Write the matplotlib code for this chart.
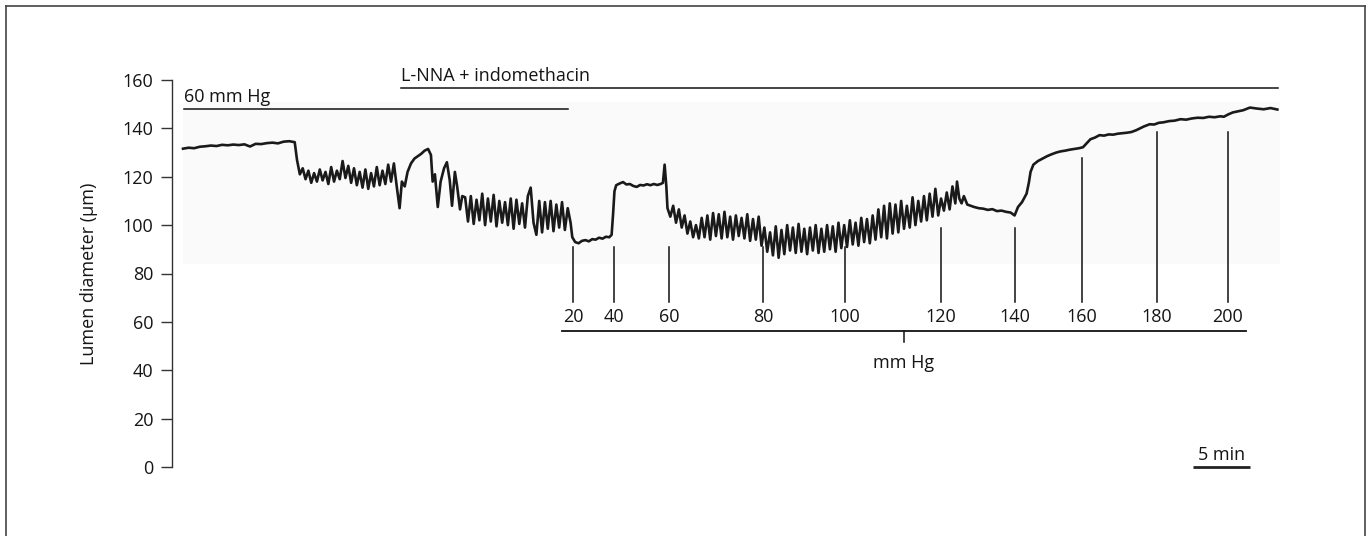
import numpy as np
import matplotlib
matplotlib.use("Agg")
import matplotlib.pyplot as plt
from matplotlib.lines import Line2D

plt.rcParams['font.family'] = ['Open Sans', 'DejaVu Sans']

# ---------------- data (time in min, lumen diameter in µm) ----------------
# baseline at 60 mm Hg, sampled evenly between 0 and 9.8 min
base_span = (0.0, 9.8)
base_v = [131.6, 132.0, 131.8, 132.4, 132.6, 132.9, 132.7, 133.2, 133.0, 133.3, 133.1,
          133.4, 132.5, 133.6, 133.5, 133.9, 134.1, 133.8, 134.5, 134.7, 134.3]

# after L-NNA + indomethacin: vasomotion, sampled evenly 10.0 - 18.75 min
osc1_span = (10.0, 18.75)
osc1_v = [127.0, 121.0, 123.5, 119.0, 122.5, 117.5, 121.5, 118.0, 123.0, 118.5, 122.0, 117.0,
          124.0, 118.0, 122.5, 119.0, 126.5, 119.5, 124.5, 117.5, 123.5, 116.5, 122.0, 115.5,
          123.0, 115.0, 121.5, 116.0, 124.0, 116.5, 122.5, 117.0, 125.0, 118.0, 125.5, 116.0]

# spike and transient hump
hump_t = [19.0, 19.2, 19.45, 19.7, 20.0, 20.3, 20.6, 20.9, 21.2, 21.5, 21.75, 21.9, 22.1,
          22.35, 22.6, 22.9, 23.15, 23.4, 23.6, 23.85, 24.05, 24.3, 24.5]
hump_v = [107.0, 118.0, 116.0, 122.0, 125.5, 127.5, 128.5, 129.5, 130.8, 131.5, 129.0, 118.0,
          121.0, 107.5, 118.0, 123.5, 126.0, 118.5, 108.0, 122.0, 116.0, 106.5, 112.0]

# dense vasomotion, sampled evenly 24.75 - 33.75 min
osc2_span = (24.75, 33.75)
osc2_v = [111.5, 101.5, 112.0, 100.5, 110.5, 102.0, 113.0, 100.0, 111.0, 101.5, 112.5, 99.5,
          110.0, 101.0, 109.5, 100.0, 111.0, 98.5, 110.5, 100.5, 109.0, 99.0, 112.0, 115.5,
          101.0, 96.0, 110.0, 97.0, 109.5, 98.5, 110.0, 97.5, 108.5, 99.0, 109.5, 98.0, 107.0]

# pressure steps 20 and 40 mm Hg
step_t = [34.0, 34.15, 34.4, 34.7, 35.0, 35.3, 35.6, 35.9, 36.2, 36.5, 36.8, 37.1, 37.4, 37.6,
          37.72, 37.85, 38.0, 38.3, 38.6, 38.9, 39.2, 39.5, 39.8, 40.1, 40.4, 40.7, 41.0, 41.3,
          41.6, 41.9, 42.1, 42.25, 42.4, 42.5]
step_v = [101.0, 95.0, 93.0, 92.5, 93.5, 93.8, 93.3, 94.2, 94.0, 94.8, 94.4, 95.2, 95.0, 96.0,
          104.0, 114.0, 116.5, 117.2, 117.8, 116.8, 117.0, 116.2, 115.8, 116.6, 116.4, 116.9,
          116.5, 117.0, 116.6, 117.0, 117.5, 125.0, 116.0, 107.0]

# vasomotion 60 - 120 mm Hg, sampled evenly 42.75 - 66.5 min
osc3_span = (42.75, 66.5)
osc3_v = [103.5, 108.0, 101.0, 106.5, 99.0, 104.0, 96.5, 101.5, 95.0, 100.0, 94.5, 103.0,
          95.0, 104.0, 94.0, 105.0, 95.5, 104.5, 94.5, 105.5, 95.0, 103.5, 94.0, 104.0,
          95.5, 103.0, 94.5, 104.5, 93.5, 102.5, 94.0, 103.5, 91.5, 99.0, 89.0, 97.0,
          87.5, 99.5, 86.5, 98.0, 88.0, 100.0, 89.5, 99.0, 88.5, 100.5, 89.0, 98.5,
          88.0, 99.0, 89.5, 100.0, 88.5, 98.5, 89.0, 100.0, 90.0, 99.5, 89.0, 101.0,
          90.5, 100.0, 91.0, 102.0, 92.0, 101.0, 91.5, 103.0, 93.0, 102.5, 92.5, 104.0,
          94.0, 106.5, 95.0, 108.0, 94.5, 109.0, 96.5, 108.5, 97.0, 110.0, 98.5, 108.0,
          99.0, 111.5, 100.0, 110.0, 101.5, 112.0, 102.0, 113.0, 103.5, 115.0, 104.0, 111.0]

# 120 mm Hg to 200 mm Hg: passive distension
rise_t = [66.75, 67.0, 67.25, 67.5, 67.75, 67.9, 68.1, 68.3, 68.5, 68.8, 69.1, 69.4, 69.8,
          70.2, 70.6, 71.0, 71.4, 71.8, 72.2, 72.6, 72.95, 73.25, 73.6, 74.0, 74.2, 74.35,
          74.6, 75.0, 75.4, 75.8, 76.2, 76.6, 77.0, 77.4, 77.8, 78.2, 78.6, 78.95, 79.3, 79.6,
          80.0, 80.4, 80.8, 81.2, 81.6, 82.0, 82.4, 82.8, 83.2, 83.6, 83.95, 84.3, 84.8, 85.2,
          85.6, 86.0, 86.5, 87.0, 87.5, 88.0, 88.5, 89.0, 89.5, 90.0, 90.5, 91.0, 91.3, 91.7,
          92.1, 92.5, 93.0, 93.6, 94.2, 94.8, 95.4, 96.0]
rise_v = [106.0, 113.5, 106.5, 116.0, 109.0, 118.0, 111.0, 109.0, 112.0, 108.5, 108.0, 107.5,
          107.0, 106.8, 106.3, 106.6, 105.8, 106.0, 105.5, 105.2, 104.0, 107.5, 109.5, 113.0,
          117.5, 122.0, 125.0, 126.5, 127.5, 128.5, 129.3, 130.0, 130.5, 130.8, 131.2, 131.5,
          131.8, 132.2, 134.0, 135.5, 136.2, 137.2, 137.0, 137.5, 137.4, 137.8, 138.0, 138.2,
          138.5, 139.2, 140.0, 140.8, 141.7, 141.6, 142.3, 142.5, 143.0, 143.2, 143.8, 143.6,
          144.1, 144.4, 144.3, 144.8, 144.6, 145.0, 144.8, 145.8, 146.6, 147.0, 147.5, 148.6,
          148.2, 147.9, 148.4, 147.8]

# intraluminal pressure steps (mm Hg), times of change and marker top values
pressures = [20, 40, 60, 80, 100, 120, 140, 160, 180, 200]
pressure_t = [34.21, 37.81, 42.63, 50.88, 58.07, 66.49, 72.98, 78.86, 85.44, 91.67]
marker_top = [90.8, 90.8, 90.8, 90.8, 90.8, 98.7, 98.7, 127.7, 138.4, 138.4]

y_ticks = [0, 20, 40, 60, 80, 100, 120, 140, 160]

# ---------------- assemble trace ----------------
t_all = np.concatenate([
    np.linspace(*base_span, len(base_v)),
    np.linspace(*osc1_span, len(osc1_v)),
    np.array(hump_t),
    np.linspace(*osc2_span, len(osc2_v)),
    np.array(step_t),
    np.linspace(*osc3_span, len(osc3_v)),
    np.array(rise_t),
])
v_all = np.concatenate([base_v, osc1_v, hump_v, osc2_v, step_v, osc3_v, rise_v])

# ---------------- figure ----------------
W, H = 1367, 536
fig = plt.figure(figsize=(W / 100, H / 100), dpi=100)
ax = fig.add_axes([172 / W, 69 / H, (1290 - 172) / W, (467 - 80) / H])
ax.set_xlim(-0.965, 97.11)
ax.set_ylim(0, 160)

txt = '#151515'
fs = 13

# light background band
ax.axvspan(0.0, 96.2, ymin=84.0 / 160, ymax=150.9 / 160, color='#fafafa', lw=0, zorder=0)

ax.plot(t_all, v_all, color='#1a1a1a', lw=1.9, zorder=3, clip_on=False)

# axes styling
for s in ['top', 'right', 'bottom']:
    ax.spines[s].set_visible(False)
ax.spines['left'].set_color('#333333')
ax.spines['left'].set_linewidth(1.0)
ax.set_xticks([])
ax.set_yticks(y_ticks)
ax.tick_params(axis='y', length=8, width=1.0, color='#333333', pad=5.5,
               labelsize=fs, labelcolor=txt)
ax.set_ylabel('Lumen diameter (µm)', fontsize=fs, color=txt)
ax.yaxis.set_label_coords(-0.066, 0.5)

# condition bars on top
ax.plot([0.09, 33.8], [148.0, 148.0], color='#111111', lw=1.1, clip_on=False)
ax.text(0.09, 150.9, '60 mm Hg', fontsize=fs, color=txt, ha='left', va='baseline')
ax.plot([19.1, 96.05], [156.7, 156.7], color='#111111', lw=1.1, clip_on=False)
ax.text(19.1, 159.4, 'L-NNA + indomethacin', fontsize=fs, color=txt, ha='left',
        va='baseline', clip_on=False)

# pressure markers
for p, t, top in zip(pressures, pressure_t, marker_top):
    ax.plot([t, t], [68.4, top], color='#111111', lw=1.1, zorder=2)
    ax.text(t, 62.2, str(p), fontsize=fs, color=txt, ha='center', va='center')
ax.plot([33.25, 93.25], [56.4, 56.4], color='#111111', lw=1.3)
ax.plot([63.25, 63.25], [56.4, 51.8], color='#111111', lw=1.1)
ax.text(63.25, 43.1, 'mm Hg', fontsize=fs, color=txt, ha='center', va='center')

# time scale bar
ax.plot([88.6, 93.6], [0.0, 0.0], color='#222222', lw=2.0, clip_on=False,
        solid_capstyle='butt')
ax.text(91.1, 1.2, '5 min', fontsize=fs, color=txt, ha='center', va='bottom')

# outer frame (left, top, right)
frame_c = '#444444'
fig.add_artist(Line2D([5.5 / W, 5.5 / W], [0, 1 - 5.5 / H], transform=fig.transFigure,
                      color=frame_c, lw=1.2))
fig.add_artist(Line2D([5.5 / W, 1 - 2.5 / W], [1 - 5.5 / H, 1 - 5.5 / H],
                      transform=fig.transFigure, color=frame_c, lw=1.2))
fig.add_artist(Line2D([1 - 2.5 / W, 1 - 2.5 / W], [0, 1 - 5.5 / H], transform=fig.transFigure,
                      color=frame_c, lw=1.2))

fig.savefig('out.png', dpi=100, facecolor='white')
